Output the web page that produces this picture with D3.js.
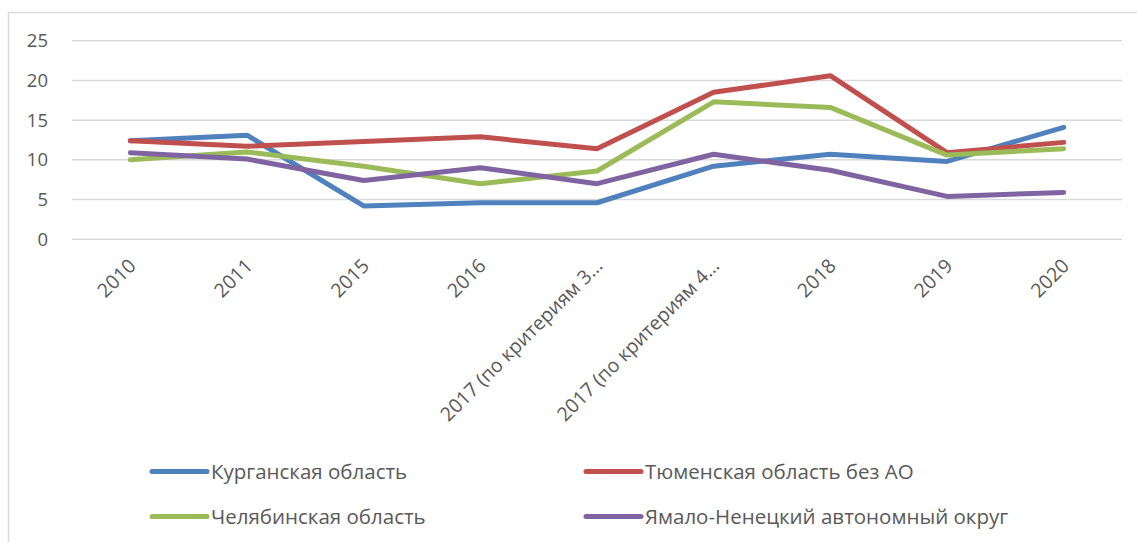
<!DOCTYPE html>
<html>
<head>
<meta charset="utf-8">
<script src="https://cdn.jsdelivr.net/npm/d3@7"></script>
<style>
  html, body { margin: 0; padding: 0; background: #fff; }
  svg { display: block; }
  text { font-family: "Open Sans", sans-serif; fill: #595959; }
</style>
</head>
<body>
<svg id="chart" width="1137" height="542"></svg>
<script>
const categories = ["2010", "2011", "2015", "2016", "2017 (по критериям 3…", "2017 (по критериям 4…", "2018", "2019", "2020"];
const yTicks = [0, 5, 10, 15, 20, 25];
const seriesNames = ["Курганская область", "Тюменская область без АО", "Челябинская область", "Ямало-Ненецкий автономный округ"];
const kurgan = [12.4, 13.1, 4.2, 4.6, 4.6, 9.2, 10.7, 9.8, 14.1];
const tyumen = [12.4, 11.7, 12.3, 12.9, 11.4, 18.5, 20.6, 10.9, 12.2];
const chelyab = [10.0, 11.0, 9.2, 7.0, 8.6, 17.3, 16.6, 10.6, 11.4];
const yamal = [10.9, 10.1, 7.4, 9.0, 7.0, 10.7, 8.7, 5.4, 5.9];
const colors = ["#4F81BD", "#C0504D", "#9BBB59", "#8064A2"];

const series = [kurgan, tyumen, chelyab, yamal];

const svg = d3.select("#chart");

// outer frame
svg.append("rect").attr("x", 8.5).attr("y", 12.5).attr("width", 1140).attr("height", 600)
  .attr("fill", "none").attr("stroke", "#d9d9d9").attr("stroke-width", 1.5);

const plotLeft = 72, plotRight = 1122, plotTop = 40.7, plotBottom = 239.3;

const x = d3.scaleBand().domain(categories).range([plotLeft, plotRight]);
const y = d3.scaleLinear().domain([0, 25]).range([plotBottom, plotTop]);

// gridlines
svg.append("g").selectAll("line").data(yTicks).join("line")
  .attr("x1", plotLeft).attr("x2", plotRight)
  .attr("y1", d => y(d)).attr("y2", d => y(d))
  .attr("stroke", "#d9d9d9").attr("stroke-width", 1.5);

// y axis labels
const yAxis = d3.axisLeft(y).tickValues(yTicks).tickSize(0).tickPadding(0);
const gy = svg.append("g").attr("transform", `translate(48,0)`).call(yAxis);
gy.select(".domain").remove();
gy.selectAll("text").attr("font-size", 18.5).attr("fill", "#595959")
  .style("font-family", "'Open Sans', sans-serif");

// x axis labels
const xAxis = d3.axisBottom(x).tickSize(0).tickPadding(0);
const gx = svg.append("g").attr("transform", `translate(0,${plotBottom})`).call(xAxis);
gx.select(".domain").remove();
gx.selectAll("text")
  .attr("font-size", 19.5).attr("fill", "#595959")
  .style("font-family", "'Open Sans', sans-serif")
  .attr("text-anchor", "end")
  .attr("dy", "0.35em")
  .attr("transform", "translate(2,23) rotate(-45)")
  .attr("y", 0).attr("x", 0);

// lines
const line = d3.line()
  .x((d, i) => x(categories[i]) + x.bandwidth() / 2)
  .y(d => y(d));

svg.append("g").selectAll("path").data(series).join("path")
  .attr("d", d => line(d))
  .attr("fill", "none")
  .attr("stroke", (d, i) => colors[i])
  .attr("stroke-width", 5)
  .attr("stroke-linejoin", "round")
  .attr("stroke-linecap", "round");

// legend
const legendPos = [[152, 471.5], [586, 471.5], [152, 516.5], [586, 516.5]];
const lg = svg.append("g");
seriesNames.forEach((name, i) => {
  const [lx, ly] = legendPos[i];
  lg.append("line").attr("x1", lx).attr("x2", lx + 55).attr("y1", ly).attr("y2", ly)
    .attr("stroke", colors[i]).attr("stroke-width", 5).attr("stroke-linecap", "round");
  lg.append("text").attr("x", lx + 59).attr("y", ly).attr("dy", "0.35em")
    .attr("font-size", 20.5).text(name);
});
</script>
</body>
</html>
